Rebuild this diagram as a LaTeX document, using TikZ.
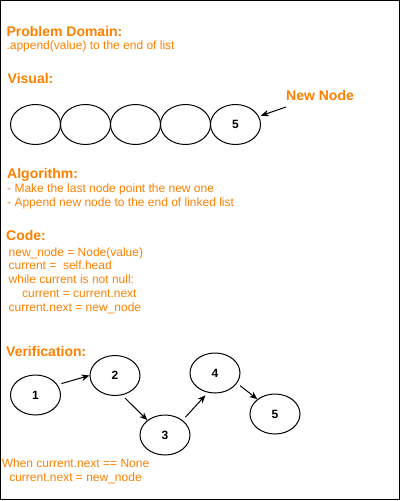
\documentclass[tikz,border=0pt]{standalone}
\usepackage{fontspec}
\setmainfont{Liberation Sans}
\usetikzlibrary{arrows.meta}
\usetikzlibrary{shapes}
\definecolor{notecolor}{HTML}{FF8000}

\tikzset{
  heading/.style={anchor=base west, inner sep=0, text=notecolor, font=\bfseries\fontsize{14}{16}\selectfont},
  plain/.style={anchor=base west, inner sep=0, text=notecolor, font=\fontsize{12}{14}\selectfont},
  listnode/.style={draw, ellipse, line width=1pt, minimum width=50, minimum height=40, inner sep=0, font=\bfseries\fontsize{12}{14}\selectfont},
  link/.style={->, line width=1pt, shorten <=4pt},
}

\begin{document}
\begin{tikzpicture}[x=1pt, y=-1pt, >={Stealth[length=8pt,width=6.5pt,inset=2.5pt]}]
    \useasboundingbox (0,0) rectangle (401,501);
    \draw[line width=1pt] (0.5,0.5) rectangle (399.5,499.5);

    \node[heading] (pd) at (6.3,36) {Problem Domain:};
    \node[plain] (pdtext) at (6.3,49) {.append(value) to the end of list};

    \node[heading] (vis) at (7.5,83.3) {Visual:};
    \node[listnode] (l1) at (35.5,124.5) {};
    \node[listnode] (l2) at (85.5,124.5) {};
    \node[listnode] (l3) at (135.5,124.5) {};
    \node[listnode] (l4) at (185.5,124.5) {};
    \node[listnode] (l5) at (235.5,124.5) {5};
    \node[heading] (newlabel) at (286,100) {New Node};
    \coordinate (newtail) at (286,107);
    \draw[->, line width=1pt, shorten >=2pt] (newtail) -- (l5);

    \node[heading] (alg) at (7,178.3) {Algorithm:};
    \node[plain] (alg1) at (7,192.3) {- Make the last node point the new one};
    \node[plain] (alg2) at (7,206) {- Append new node to the end of linked list};

    \node[heading] (code) at (6,240.3) {Code:};
    \node[plain] (code1) at (8.5,256) {new\_node = Node(value)};
    \node[plain] (code2) at (8.5,269.8) {current = \ self.head};
    \node[plain] (code3) at (8.5,283.6) {while current is not null:};
    \node[plain] (code4) at (22,297.4) {current = current.next};
    \node[plain] (code5) at (8.5,311.2) {current.next = new\_node};

    \node[heading] (ver) at (6,356) {Verification:};
    \node[listnode] (v1) at (35.5,395) {1};
    \node[listnode] (v2) at (115,375.5) {2};
    \node[listnode] (v3) at (165,435) {3};
    \node[listnode] (v4) at (215,373) {4};
    \node[listnode] (v5) at (275,414) {5};

    \draw[link] (v1.25) to (v2.west);
    \draw[link] (v2.-70) to (v3.140);
    \draw[link, shorten >=3.5pt] (v3.40) to (v4.250);
    \draw[link] (v4.-25) to (v5.140);

    \node[plain, anchor=base] (note1) at (75.5,467.3) {When current.next == None};
    \node[plain, anchor=base] (note2) at (75.5,481.7) {current.next = new\_node};
\end{tikzpicture}
\end{document}
